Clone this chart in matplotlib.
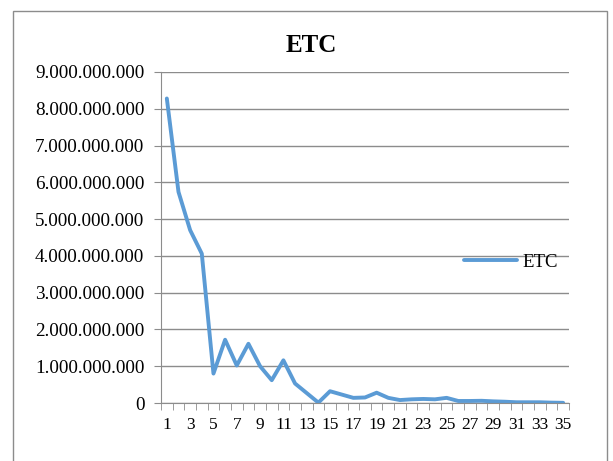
import matplotlib
matplotlib.use("Agg")
import matplotlib.pyplot as plt
from matplotlib.patches import Rectangle
from matplotlib.ticker import FuncFormatter, MultipleLocator, FixedLocator

plt.rcParams["font.family"] = ["Liberation Serif", "DejaVu Serif"]

periods = list(range(1, 36))
etc = [8.28e9, 5.74e9, 4.70e9, 4.06e9, 0.80e9, 1.72e9, 1.02e9, 1.61e9, 1.00e9, 0.62e9,
       1.16e9, 0.53e9, 0.27e9, 0.01e9, 0.32e9, 0.23e9, 0.14e9, 0.15e9, 0.28e9, 0.14e9,
       0.08e9, 0.10e9, 0.11e9, 0.10e9, 0.14e9, 0.055e9, 0.055e9, 0.06e9, 0.045e9, 0.035e9,
       0.02e9, 0.02e9, 0.02e9, 0.01e9, 0.005e9]
xlabels = [str(p) if p % 2 == 1 else "" for p in periods]

W, H = 613, 461
fig = plt.figure(figsize=(W / 100, H / 100), dpi=100)

# chart border
fig.patches.append(Rectangle((13 / W, -0.05), (607 - 13) / W, (H - 11) / H + 0.05,
                             transform=fig.transFigure, fill=False,
                             edgecolor="#8c8c8c", linewidth=1))

ax = fig.add_axes([161 / W, 1 - 403 / H, (569 - 161) / W, (403 - 72) / H])
ax.plot(periods, etc, color="#5b9bd5", linewidth=2.8, label="ETC",
        solid_joinstyle="round", solid_capstyle="round")

ax.set_xlim(0.5, 35.5)
ax.set_ylim(0, 9e9)
ax.yaxis.set_major_locator(MultipleLocator(1e9))
ax.yaxis.set_major_formatter(FuncFormatter(lambda v, p: f"{int(v):,}".replace(",", ".")))
ax.set_xticks(periods)
ax.set_xticklabels(xlabels)
ax.xaxis.set_minor_locator(FixedLocator([p + 0.5 for p in [0] + periods]))
ax.tick_params(axis="x", which="major", length=0, pad=10, labelsize=12.5)
ax.tick_params(axis="x", which="minor", length=5, color="#8c8c8c", direction="out")
ax.tick_params(axis="y", length=5, color="#8c8c8c", labelsize=13.8, pad=7)

ax.grid(axis="y", color="#8c8c8c", linewidth=1)
ax.set_axisbelow(True)
for side in ["top", "right"]:
    ax.spines[side].set_visible(False)
for side in ["left", "bottom"]:
    ax.spines[side].set_color("#8c8c8c")

fig.text(311 / W, 1 - 45 / H, "ETC", ha="center", va="center",
         fontsize=18, fontweight="bold")

ax.legend(loc="center left", bbox_to_anchor=(455 / W, 1 - 262 / H),
          bbox_transform=fig.transFigure, frameon=False, fontsize=13.5,
          handlelength=2.8, handletextpad=0.3, borderpad=0)

fig.savefig("out.png", dpi=100)
